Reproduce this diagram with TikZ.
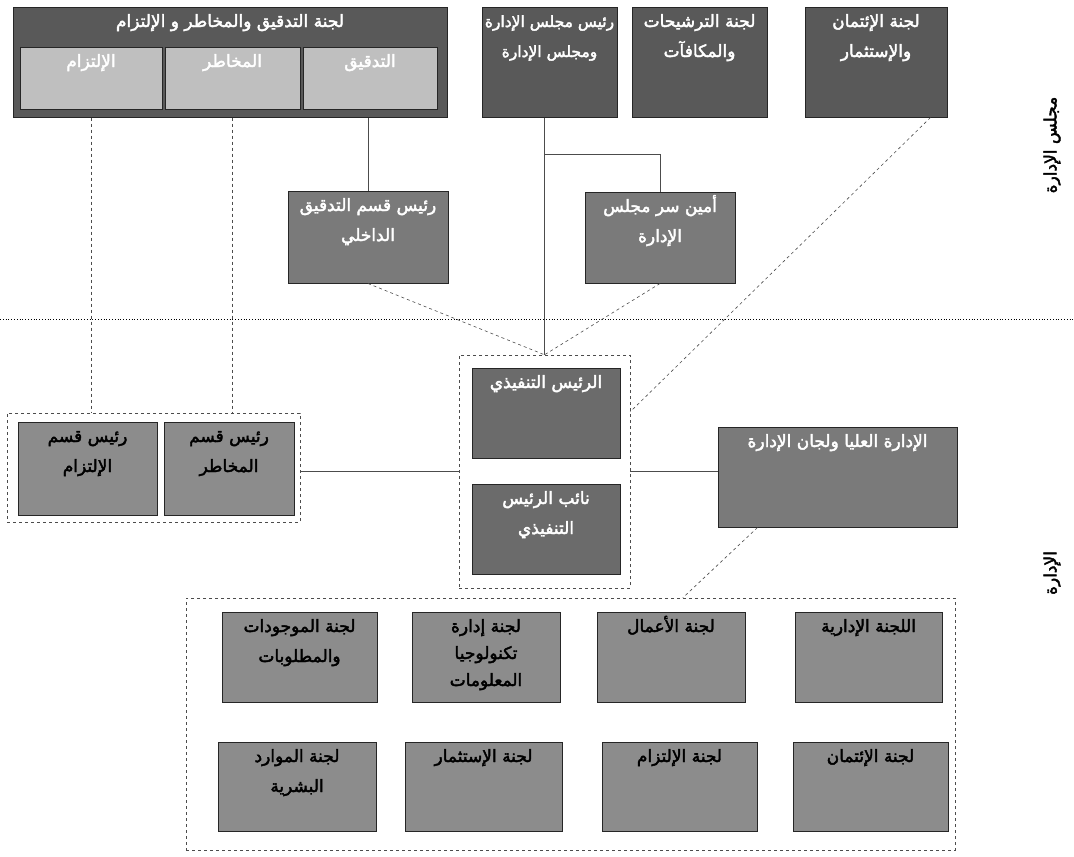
\documentclass[tikz,border=0pt]{standalone}
\usepackage{fontspec}
\newfontfamily\arabicfont[Script=Arabic,FakeBold=2.5]{DejaVu Sans}
\TeXXeTstate=1
\usetikzlibrary{positioning}
\newcommand{\rl}[1]{\beginR #1\endR}

\tikzset{
  box/.style={draw=black!85, line width=1pt, inner xsep=2pt, inner ysep=3pt,
    align=center, text height=17pt,
    font={\arabicfont\fontsize{17}{30}\selectfont}},
  board/.style={box, fill=black!65, text=white},
  part/.style={box, fill=black!25, text=white},
  unit/.style={box, fill=black!52, text=white},
  head/.style={box, fill=black!58, text=white},
  comm/.style={box, fill=black!45, text=black},
  grp/.style={draw=black!70, dashed, inner sep=0pt},
  ln/.style={draw=black!70, line width=0.6pt},
  dl/.style={draw=black!70, line width=0.6pt, dashed},
  side/.style={font={\arabicfont\fontsize{17}{20}\selectfont}, rotate=90}
}

\begin{document}
\begin{tikzpicture}[x=1pt, y=-1pt]
  \useasboundingbox (0,0) rectangle (1074,857);
  % board level
  \node[board, minimum width=434, text depth=87] (acom) at (230,62) {\rl{لجنة التدقيق والمخاطر و الإلتزام}};
  \node[part, minimum width=142, text depth=39] (cmp) at (91,78) {\rl{الإلتزام}};
  \node[part, minimum width=135, text depth=39] (rsk) at (232.5,78) {\rl{المخاطر}};
  \node[part, minimum width=134, text depth=39] (aud) at (370,78) {\rl{التدقيق}};
  \node[board, minimum width=135, text height=47, text depth=57, inner xsep=0pt, font={\arabicfont\fontsize{15.5}{30}\selectfont}] (chair) at (549.5,62) {\rl{رئيس مجلس الإدارة}\\ \rl{ومجلس الإدارة}};
  \node[board, minimum width=135, text height=47, text depth=57] (nom) at (699.5,62) {\rl{لجنة الترشيحات}\\ \rl{والمكافآت}};
  \node[board, minimum width=142, text height=47, text depth=57] (cred) at (876,62) {\rl{لجنة الإئتمان}\\ \rl{والإستثمار}};
  \node[unit, minimum width=160, text height=47, text depth=39] (iaud) at (368,237) {\rl{رئيس قسم التدقيق}\\ \rl{الداخلي}};
  \node[unit, minimum width=150, text height=47, text depth=38] (sec) at (660,237.5) {\rl{أمين سر مجلس}\\ \rl{الإدارة}};
  \node[side] (sboard) at (1052,145) {\rl{مجلس الإدارة}};
  \coordinate (sepL) at (0,319);
  \coordinate (sepR) at (1074,319);

  % management level
  \node[grp, minimum width=171, minimum height=233] (ceog) at (544.5,471.5) {};
  \node[head, minimum width=148, text depth=67] (ceo) at (546,413) {\rl{الرئيس التنفيذي}};
  \node[head, minimum width=148, text height=47, text depth=37, below=25pt of ceo] (dep) {\rl{نائب الرئيس}\\ \rl{التنفيذي}};
  \node[grp, minimum width=293, minimum height=109] (lgrp) at (153.5,467.5) {};
  \node[comm, minimum width=139, text height=47, text depth=40] (lcmp) at (87.5,468.5) {\rl{رئيس قسم}\\ \rl{الإلتزام}};
  \node[comm, minimum width=130, text height=47, text depth=40, right=6pt of lcmp] (lrsk) {\rl{رئيس قسم}\\ \rl{المخاطر}};
  \node[unit, minimum width=239, text depth=77] (sen) at (837.5,477) {\rl{الإدارة العليا ولجان الإدارة}};
  \node[side] (smgmt) at (1052,573) {\rl{الإدارة}};

  % committees
  \node[grp, minimum width=769, minimum height=252] (bgrp) at (570.5,724) {};
  \node[comm, minimum width=155, text height=47, text depth=37] (alm) at (299.5,657) {\rl{لجنة الموجودات}\\ \rl{والمطلوبات}};
  \node[comm, minimum width=148, text height=71, text depth=13, font={\arabicfont\fontsize{17}{27}\selectfont}] (itc) at (486,657) {\rl{لجنة إدارة}\\ \rl{تكنولوجيا}\\ \rl{المعلومات}};
  \node[comm, minimum width=148, text depth=67] (bus) at (671,657) {\rl{لجنة الأعمال}};
  \node[comm, minimum width=147, text depth=67] (adm) at (868.5,657) {\rl{اللجنة الإدارية}};
  \node[comm, minimum width=158, text height=47, text depth=36] (hrc) at (297,786.5) {\rl{لجنة الموارد}\\ \rl{البشرية}};
  \node[comm, minimum width=157, text depth=66] (inv) at (483.5,786.5) {\rl{لجنة الإستثمار}};
  \node[comm, minimum width=155, text depth=66] (cmc) at (679.5,786.5) {\rl{لجنة الإلتزام}};
  \node[comm, minimum width=155, text depth=66] (crc) at (870.5,786.5) {\rl{لجنة الإئتمان}};

  % connectors
  \draw[dotted, line width=0.8pt] (sepL) -- (sepR);
  \draw[ln] (iaud.north |- acom.south) -- (iaud.north);
  \draw[ln] (ceog.north |- chair.south) -- (ceog.north);
  \coordinate (br) at (ceog.north |- 0,154);
  \draw[ln] (br) -| (sec.north);
  \draw[dl] (iaud.south) -- (ceog.north);
  \draw[dl] (sec.south) -- (ceog.north);
  \draw[dl] ([xshift=-17pt]cred.south east) -- ([yshift=-57pt]ceog.north east);
  \draw[dl] (cmp.south |- acom.south) -- (cmp.south |- lgrp.north);
  \draw[dl] (rsk.south |- acom.south) -- (rsk.south |- lgrp.north);
  \draw[ln] (ceog.west) -- (ceog.west -| lgrp.east);
  \draw[ln] (ceog.east) -- (ceog.east -| sen.west);
  \draw[dl] ([xshift=40pt]sen.south west) -- ([xshift=497pt]bgrp.north west);
\end{tikzpicture}
\end{document}
